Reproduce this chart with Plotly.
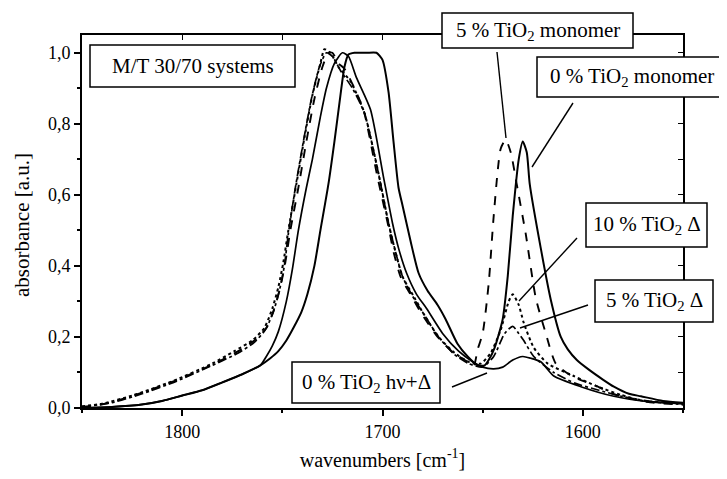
import plotly.graph_objects as go

# ---------------- data ----------------
wn_0_mono = [1850, 1835, 1820, 1810, 1800, 1790, 1780, 1770, 1761, 1756, 1752, 1748, 1744.5, 1740.5, 1737.5, 1734, 1731,
             1727, 1724, 1721, 1719, 1717, 1714, 1708, 1703, 1700, 1697, 1694.5, 1692, 1690, 1686, 1682, 1677.5, 1672.5,
             1668.5, 1662.5, 1657.5, 1652.5, 1649, 1647, 1644, 1640, 1637.5, 1635, 1632, 1630, 1628, 1626.5, 1621, 1616,
             1611, 1607.5, 1603, 1597.5, 1590, 1584.5, 1577, 1571, 1560, 1550]
ab_0_mono = [0.0, 0.003, 0.01, 0.02, 0.035, 0.05, 0.072, 0.095, 0.12, 0.14, 0.16, 0.19, 0.225, 0.27, 0.32, 0.4, 0.5,
             0.63, 0.75, 0.88, 0.96, 0.995, 1.0, 1.0, 1.0, 0.98, 0.89, 0.75, 0.62, 0.57, 0.47, 0.38, 0.33, 0.29,
             0.25, 0.18, 0.145, 0.12, 0.12, 0.135, 0.17, 0.25, 0.37, 0.54, 0.70, 0.75, 0.72, 0.63, 0.45, 0.305,
             0.2, 0.165, 0.135, 0.11, 0.08, 0.06, 0.04, 0.033, 0.02, 0.015]

wn_5_mono = [1850, 1836, 1820, 1802, 1783, 1772, 1764, 1758, 1754, 1751, 1748.5, 1746, 1742, 1738, 1734, 1730, 1727, 1725,
             1722, 1719, 1714, 1709.5, 1702.5, 1697, 1694.5, 1691, 1685, 1681, 1672.5, 1664.5, 1657.5, 1654.5, 1652.5,
             1650, 1647, 1644.5, 1641, 1638.5, 1636, 1633, 1628.5, 1623.5, 1618.5, 1613.5, 1605.5, 1592.5, 1585, 1575,
             1565, 1550]
ab_5_mono = [0.0, 0.015, 0.043, 0.08, 0.127, 0.16, 0.19, 0.225, 0.28, 0.34, 0.41, 0.5, 0.62, 0.75, 0.87, 0.96, 1.0, 1.0,
             0.97, 0.955, 0.9, 0.84, 0.65, 0.51, 0.44, 0.37, 0.31, 0.27, 0.20, 0.155, 0.13, 0.118, 0.165,
             0.21, 0.35, 0.54, 0.73, 0.755, 0.72, 0.63, 0.49, 0.31, 0.21, 0.125, 0.09, 0.06, 0.04, 0.025,
             0.015, 0.01]

wn_10_d = [1850, 1840, 1825, 1805, 1785, 1774, 1765, 1759, 1755, 1752, 1749.5, 1747, 1743, 1739, 1735, 1731, 1729, 1726,
           1722, 1716, 1709, 1702, 1697, 1694, 1690, 1684, 1680, 1672, 1664, 1657, 1651, 1646, 1641, 1637, 1635, 1632,
           1629.5, 1624.5, 1617.5, 1604.5, 1592.5, 1581, 1570, 1560, 1550]
ab_10_d = [0.005, 0.012, 0.035, 0.075, 0.125, 0.16, 0.19, 0.225, 0.28, 0.34, 0.41, 0.5, 0.63, 0.76, 0.88, 0.97, 1.01, 1.0,
           0.96, 0.92, 0.83, 0.66, 0.52, 0.45, 0.37, 0.31, 0.27, 0.2, 0.155, 0.13, 0.125, 0.155, 0.22, 0.3, 0.32, 0.29,
           0.24, 0.17, 0.125, 0.09, 0.06, 0.037, 0.02, 0.015, 0.01]

wn_5_d = [1850, 1835, 1820, 1803, 1785, 1772, 1764, 1758.5, 1754.5, 1751.5, 1749, 1747, 1743.5, 1739.5, 1735.5, 1731.5,
          1728, 1725, 1721, 1715, 1709, 1702, 1697, 1693.5, 1690, 1684, 1680, 1672, 1664, 1657, 1650, 1644.5, 1639,
          1635, 1632, 1629.5, 1624.5, 1614.5, 1604, 1592, 1580, 1568, 1550]
ab_5_d = [0.003, 0.015, 0.04, 0.075, 0.12, 0.155, 0.185, 0.22, 0.27, 0.33, 0.4, 0.49, 0.62, 0.75, 0.87, 0.96,
          1.0, 0.99, 0.95, 0.9, 0.83, 0.66, 0.52, 0.44, 0.37, 0.305, 0.27, 0.2, 0.15, 0.125, 0.115, 0.145, 0.21,
          0.23, 0.21, 0.19, 0.145, 0.1, 0.07, 0.05, 0.032, 0.02, 0.012]

wn_0_hv = [1850, 1835, 1820, 1810, 1800, 1790, 1780, 1770, 1761, 1758, 1755, 1752, 1748, 1745, 1742, 1738, 1735, 1731,
           1728, 1724, 1720, 1717, 1713, 1706, 1699.5, 1695, 1692, 1688, 1683, 1678, 1670, 1662, 1655, 1650, 1644.5,
           1640, 1635, 1630, 1626, 1621, 1614.5, 1601, 1584.5, 1567.5, 1550]
ab_0_hv = [0.0, 0.003, 0.01, 0.02, 0.035, 0.05, 0.072, 0.095, 0.12, 0.145, 0.175, 0.215, 0.3, 0.39, 0.5, 0.62, 0.7, 0.82,
           0.9, 0.97, 1.0, 0.99, 0.93, 0.84, 0.65, 0.52, 0.45, 0.38, 0.32, 0.28, 0.21, 0.16, 0.13, 0.115, 0.11,
           0.115, 0.135, 0.145, 0.14, 0.13, 0.09, 0.06, 0.033, 0.018, 0.012]

x_ticks = [1800, 1700, 1600]
x_tick_labels = ["1800", "1700", "1600"]
y_ticks = [0.0, 0.2, 0.4, 0.6, 0.8, 1.0]
y_tick_labels = ["0,0", "0,2", "0,4", "0,6", "0,8", "1,0"]

x_title = "wavenumbers [cm<sup>-1</sup>]"
y_title = "absorbance [a.u.]"
labels = ["M/T 30/70 systems", "5 % TiO<sub>2</sub> monomer", "0 % TiO<sub>2</sub> monomer",
          "10 % TiO<sub>2</sub> Δ", "5 % TiO<sub>2</sub> Δ", "0 % TiO<sub>2</sub> hν+Δ"]

# ---------------- figure ----------------
W, H = 727, 479
OFF = 8                      # page offset of the figure in the screenshot
L, R, T, B = 82 - OFF, 44 + OFF, 35 - OFF, 71 + OFF
PW, PH = W - L - R, H - T - B


def px(x):      # screen pixel -> paper
    return (x - OFF - L) / PW


def py(y):
    return (H - B - (y - OFF)) / PH


FONT = "Liberation Serif, Times New Roman, serif"
fig = go.Figure()

series = [
    (wn_0_hv, ab_0_hv, "solid", 1.7),
    (wn_5_d, ab_5_d, "dashdot", 1.7),
    (wn_10_d, ab_10_d, "dot", 2.0),
    (wn_5_mono, ab_5_mono, "dash", 1.9),
    (wn_0_mono, ab_0_mono, "solid", 2.0),
]
for xs, ys, dash, w in series:
    fig.add_trace(go.Scatter(x=xs, y=ys, mode="lines",
                             line=dict(color="black", width=w, dash=dash, shape="spline", smoothing=0.6),
                             showlegend=False, hoverinfo="skip"))
# helper trace for the mirrored top/right axes
fig.add_trace(go.Scatter(x=[None], y=[None], xaxis="x2", yaxis="y2", showlegend=False))

fig.update_layout(
    width=W, height=H, margin=dict(l=L, r=R, t=T, b=B),
    paper_bgcolor="white", plot_bgcolor="white",
    font=dict(family=FONT, size=18, color="black"),
    xaxis=dict(range=[1850, 1550], tickvals=x_ticks, ticktext=x_tick_labels, automargin=False,
               ticks="outside", ticklen=6, tickwidth=1.5, tickcolor="black",
               showline=True, linewidth=2, linecolor="black", showgrid=False, zeroline=False,
               minor=dict(tickvals=[1850, 1750, 1650, 1550], ticks="outside", ticklen=3, tickcolor="black"),
               title=dict(text=x_title, font=dict(size=20), standoff=12),
               tickfont=dict(size=18)),
    yaxis=dict(range=[0, 1.05], tickvals=y_ticks, ticktext=y_tick_labels, automargin=False,
               ticks="outside", ticklen=6, tickwidth=1.5, tickcolor="black",
               showline=True, linewidth=2, linecolor="black", showgrid=False, zeroline=False,
               minor=dict(tickvals=[0.1, 0.3, 0.5, 0.7, 0.9], ticks="outside", ticklen=3, tickcolor="black"),
               tickfont=dict(size=18)),
    xaxis2=dict(overlaying="x", side="top", anchor="y", range=[1850, 1550], tickvals=[1800, 1750, 1700, 1650, 1600],
                ticks="inside", ticklen=5, tickcolor="black", showticklabels=False, automargin=False,
                showline=True, linewidth=1.5, linecolor="black", showgrid=False, zeroline=False),
    yaxis2=dict(overlaying="y", side="right", anchor="x", range=[0, 1.05],
                tickvals=[0.1, 0.2, 0.3, 0.4, 0.5, 0.6, 0.7, 0.8, 0.9, 1.0], automargin=False,
                ticks="inside", ticklen=5, tickcolor="black", showticklabels=False,
                showline=True, linewidth=1.5, linecolor="black", showgrid=False, zeroline=False),
)

# y-axis title as rotated text at the reference position
fig.add_annotation(text=y_title, xref="paper", yref="paper", x=px(22), y=py(225), textangle=-90,
                   xanchor="center", yanchor="middle", showarrow=False, font=dict(family=FONT, size=21))

# label boxes (screen pixel geometry -> paper coords)
boxes = [(90, 45, 295, 87), (442, 13, 633, 48), (537, 57, 729, 97),
         (586, 203, 707, 247), (595, 280, 713, 322), (292, 362, 440, 403)]
leaders = [None, (497, 52, 506, 138), (573, 103, 532, 167),
           (577, 238, 519, 301), (588, 305, 520, 328), (452, 387, 487, 373)]

shapes = []
for (x0, y0, x1, y1), lead, txt in zip(boxes, leaders, labels):
    shapes.append(dict(type="rect", xref="paper", yref="paper", x0=px(x0), x1=px(x1), y0=py(y1), y1=py(y0),
                       fillcolor="white", line=dict(color="black", width=1.5), layer="above"))
    if lead:
        shapes.append(dict(type="line", xref="paper", yref="paper", x0=px(lead[0]), y0=py(lead[1]),
                           x1=px(lead[2]), y1=py(lead[3]), line=dict(color="black", width=1.4), layer="above"))
    fig.add_annotation(text=txt, xref="paper", yref="paper", x=px((x0 + min(x1, W)) / 2), y=py((y0 + y1) / 2),
                       xanchor="center", yanchor="middle", showarrow=False, font=dict(family=FONT, size=21))
fig.update_layout(shapes=shapes)

fig.write_html("out.html")
